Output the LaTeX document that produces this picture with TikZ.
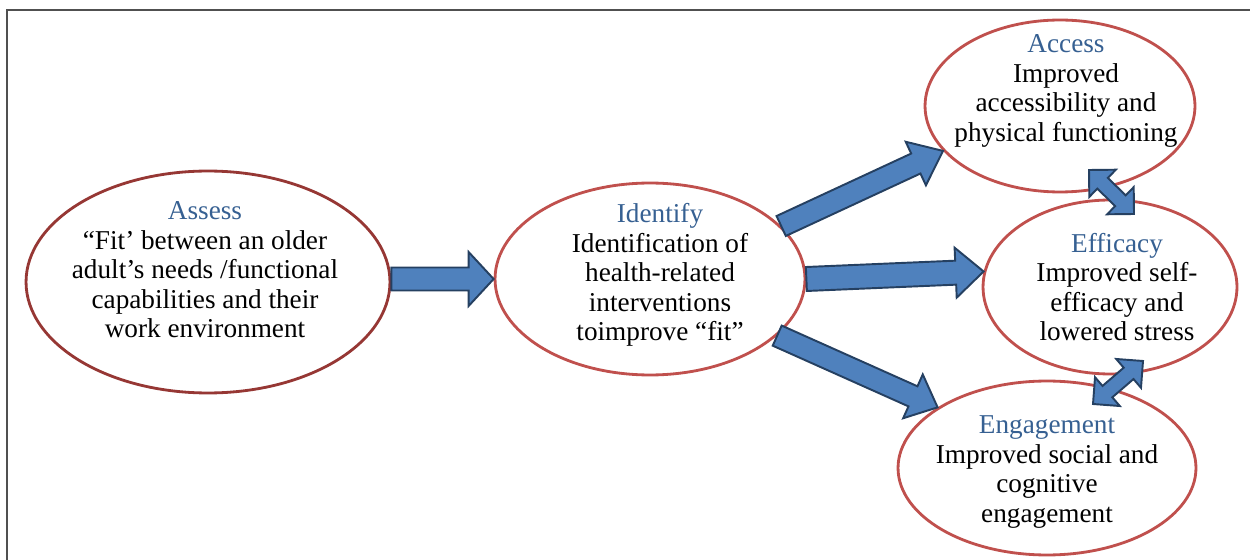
\documentclass[tikz,border=0pt]{standalone}
\usepackage{fontspec}
\setmainfont{Liberation Serif}
\usetikzlibrary{shapes.geometric,calc}
\definecolor{titleblue}{RGB}{54,96,146}
\definecolor{assessred}{RGB}{150,55,52}
\definecolor{ellred}{RGB}{192,80,77}
\definecolor{arrfill}{RGB}{79,129,189}
\definecolor{arrdraw}{RGB}{37,64,97}
\definecolor{framegray}{RGB}{80,80,80}
\tikzset{
  ell/.style={ellipse,draw=ellred,line width=1.6pt,inner sep=0pt},
  txt/.style={align=center,font=\fontsize{15.5}{16.8}\selectfont,text=black,inner sep=0pt},
  barrow/.style={fill=arrfill,draw=arrdraw,line width=1.1pt,line join=miter},
  framelines/.style={draw=framegray,line width=1.1pt},
}
\newcommand\ttl[1]{\textcolor{titleblue}{#1}}
% single block arrow: start, tip, shaft half width, head half width, head length
\newcommand\blockarr[5]{%
  \coordinate (tmpH) at ($(#2)!#5!(#1)$);
  \filldraw[barrow] ($(#1)!#3!90:(#2)$) -- ($(tmpH)!#3!90:(#2)$) -- ($(tmpH)!#4!90:(#2)$) -- (#2)
    -- ($(tmpH)!#4!-90:(#2)$) -- ($(tmpH)!#3!-90:(#2)$) -- ($(#1)!#3!-90:(#2)$) -- cycle;
}
% double block arrow
\newcommand\dblarr[5]{%
  \coordinate (tmpA) at ($(#1)!#5!(#2)$);
  \coordinate (tmpB) at ($(#2)!#5!(#1)$);
  \filldraw[barrow] (#1) -- ($(tmpA)!#4!90:(#2)$) -- ($(tmpA)!#3!90:(#2)$) -- ($(tmpB)!#3!90:(#2)$)
    -- ($(tmpB)!#4!90:(#2)$) -- (#2) -- ($(tmpB)!#4!-90:(#2)$) -- ($(tmpB)!#3!-90:(#2)$)
    -- ($(tmpA)!#3!-90:(#2)$) -- ($(tmpA)!#4!-90:(#2)$) -- cycle;
}
\begin{document}
\begin{tikzpicture}[x=0.02cm,y=-0.02cm]
\useasboundingbox (0,0) rectangle (1250,560);
\fill[white] (0,0) rectangle (1250,560);
\draw[framelines] (7,560) -- (7,10) -- (1250,10);

% ellipses
\node[ell,draw=assessred,minimum width=7.28cm,minimum height=4.44cm] (assess) at (208,282) {};
\node[ell,minimum width=6.2cm,minimum height=3.84cm] (identify) at (650,279) {};
\node[ell,minimum width=5.4cm,minimum height=3.44cm] (access) at (1060,106) {};
\node[ell,minimum width=5.08cm,minimum height=3.48cm] (efficacy) at (1110,287) {};
\node[ell,minimum width=5.96cm,minimum height=3.48cm] (engagement) at (1047,468) {};

% texts
\node[txt] (assesstxt) at (205,270) {\ttl{Assess}\\“Fit’ between an older\\adult’s needs /functional\\capabilities and their\\work environment};
\node[txt] (identifytxt) at (660,275) {\ttl{Identify}\\Identification of\\health-related\\interventions\\toimprove “fit”};
\node[txt] (accesstxt) at (1066,91) {\ttl{Access}\\Improved\\accessibility and\\physical functioning};
\node[txt] (efficacytxt) at (1117,287) {\ttl{Efficacy}\\Improved self-\\efficacy and\\lowered stress};
\node[txt] (engagementtxt) at (1047,472) {\ttl{Engagement}\\Improved social and\\cognitive\\engagement};

% connector end points
\coordinate (acE1) at (1089,170);
\coordinate (acE2) at (1134,214);
\coordinate (efE1) at (1143,361);
\coordinate (efE2) at (1093,404);

% arrows
\blockarr{assess.east |- identify.west}{identify.west}{0.23cm}{0.54cm}{0.5cm}
\blockarr{identify.22}{access.201}{0.22cm}{0.48cm}{0.6cm}
\blockarr{identify.east}{efficacy.173}{0.24cm}{0.5cm}{0.56cm}
\blockarr{identify.-24}{engagement.151}{0.22cm}{0.48cm}{0.54cm}
\dblarr{acE1}{acE2}{0.15cm}{0.38cm}{0.38cm}
\dblarr{efE1}{efE2}{0.15cm}{0.38cm}{0.38cm}
\end{tikzpicture}
\end{document}
